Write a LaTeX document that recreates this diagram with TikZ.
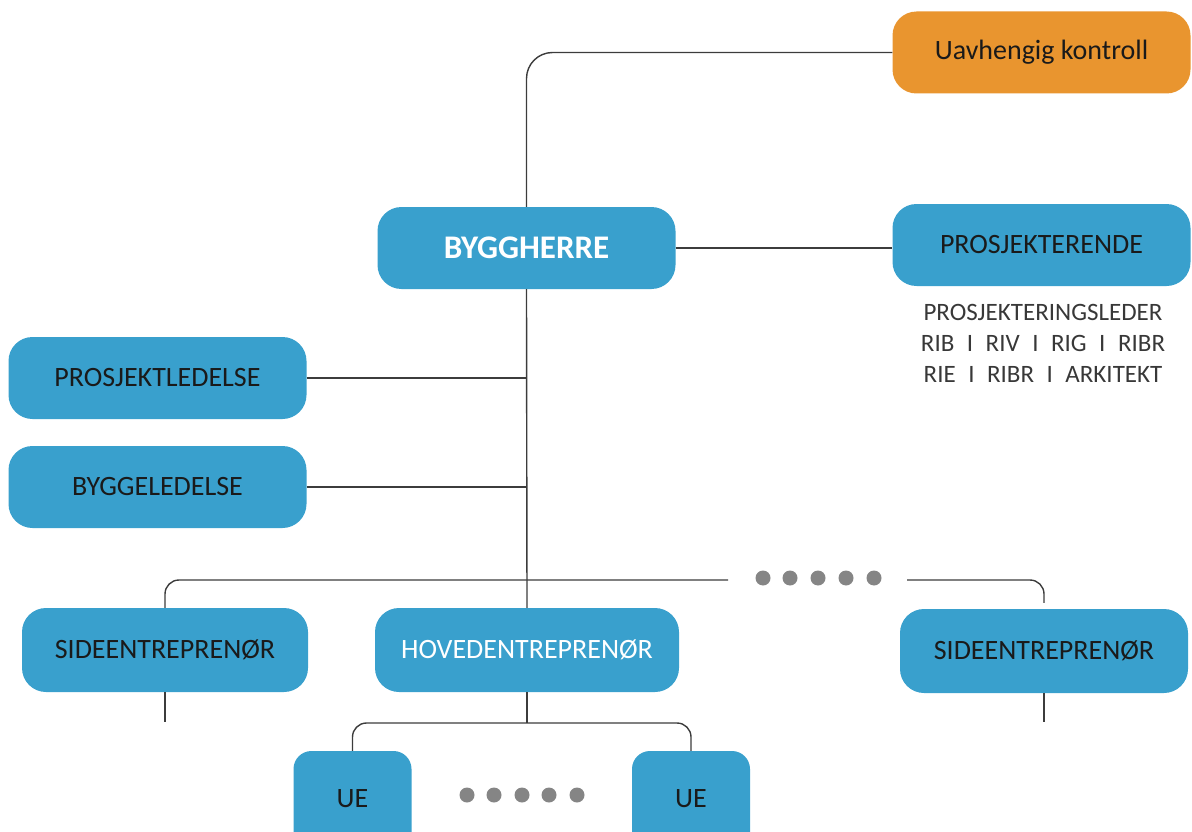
\documentclass[tikz,border=0pt]{standalone}
\usepackage{fontspec}
\setmainfont{Carlito}
\definecolor{boxblue}{HTML}{39A0CD}
\definecolor{boxorange}{HTML}{E9952F}
\definecolor{textdark}{HTML}{1A1A1A}
\definecolor{subtext}{HTML}{383838}
\definecolor{linegray}{HTML}{3C3C3C}
\definecolor{dotgray}{HTML}{858585}
\begin{document}
\begin{tikzpicture}[x=1pt,y=-1pt,
  box/.style={rounded corners=24pt, fill=boxblue, draw=none, inner sep=0pt,
    minimum width=298pt, minimum height=82pt, text=textdark,
    font=\fontsize{28}{32}\selectfont},
  whitetext/.style={text=white},
  orangebox/.style={box, fill=boxorange},
  uebox/.style={box, rounded corners=18pt, minimum width=118pt, minimum height=100pt},
  conn/.style={draw=linegray, line width=1.4pt},
  dot/.style={fill=dotgray}]
\useasboundingbox (0,0) rectangle (1192,832);

% organisation boxes
\node[orangebox] (uk) at (1041.5,52.5) {Uavhengig kontroll};
\node[box, whitetext, font=\fontsize{33}{36}\selectfont\bfseries] (bh) at (526.5,248) {BYGGHERRE};
\node[box] (pr) at (1041.5,245) {PROSJEKTERENDE};
\node[font=\fontsize{25}{31}\selectfont, text=subtext, align=center, inner sep=0pt] (prlist) at (1043,343)
  {PROSJEKTERINGSLEDER\\RIB\enspace I\enspace RIV\enspace I\enspace RIG\enspace I\enspace RIBR\\RIE\enspace I\enspace RIBR\enspace I\enspace ARKITEKT};
\node[box] (pl) at (157.5,378) {PROSJEKTLEDELSE};
\node[box] (bl) at (157.5,487) {BYGGELEDELSE};
\node[box, minimum width=286pt, minimum height=84pt] (s1) at (165,650) {SIDEENTREPRENØR};
\node[box, whitetext, minimum width=304pt, minimum height=84pt] (he) at (527,650) {HOVEDENTREPRENØR};
\node[box, minimum width=288pt, minimum height=84pt] (s2) at (1044,651) {SIDEENTREPRENØR};
\node[uebox] (ue1) at (352.5,801) {\raisebox{5pt}{UE}};
\node[uebox] (ue2) at (691,801) {\raisebox{5pt}{UE}};

% connector end points
\coordinate (busL) at (728,580);
\coordinate (busR) at (907,580);
\coordinate (s1end) at (s1.south |- 0,722);
\coordinate (s2end) at (s2.south |- 0,722);
\coordinate (hebar) at (527,723);

% connectors
\draw[conn, rounded corners=26pt] (bh.north) |- (uk.west);
\draw[conn] (bh.east) -- (pr.west |- bh.east);
\draw[conn] (bh.south) -- (he.north);
\draw[conn] (pl.east) -- (pl.east -| bh.south);
\draw[conn] (bl.east) -- (bl.east -| bh.south);
\draw[conn, rounded corners=14pt] (s1.north) |- (busL);
\draw[conn, rounded corners=14pt, shorten >=6pt] (busR) -| (s2.north);
\draw[conn] (s1.south) -- (s1end);
\draw[conn] (s2.south) -- (s2end);
\draw[conn] (he.south) -- (hebar);
\draw[conn, rounded corners=14pt] (ue1.north) |- (hebar) -| (ue2.north);

% ellipsis dots
\foreach \x in {763,790,818,846,874} \fill[dot] (\x,578) circle (7.5pt);
\foreach \x in {467,494,522,549,577} \fill[dot] (\x,795) circle (7.5pt);
\end{tikzpicture}
\end{document}
